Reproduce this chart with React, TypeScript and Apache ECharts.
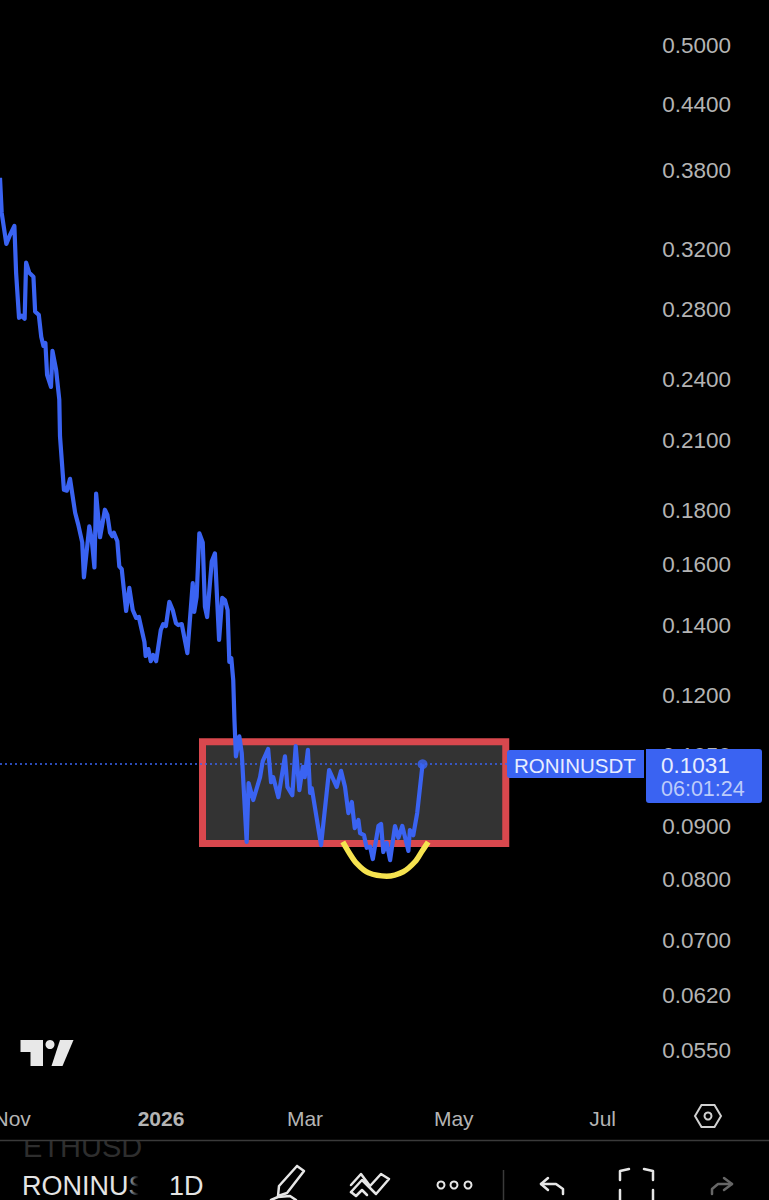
import React, { useEffect, useRef } from "react";
import * as echarts from "echarts";

// days since 1 Jan 2026
const days = [-66.0,-65.3,-63.4,-61.9,-60.1,-59.4,-58.2,-57.1,-55.9,-55.3,-54.0,-52.3,-51.6,-50.1,-49.1,-48.2,-47.4,-46.7,-45.1,-44.5,-43.0,-41.7,-41.4,-39.8,-38.6,-37.3,-35.2,-33.9,-32.3,-31.6,-29.4,-28.4,-27.3,-26.6,-25.0,-23.0,-22.0,-20.9,-20.0,-19.3,-17.9,-17.1,-16.1,-14.3,-13.0,-11.6,-10.2,-9.1,-6.8,-6.3,-5.2,-4.2,-3.2,-2.0,-0.1,0.9,2.0,3.4,4.8,6.1,7.1,8.5,10.8,13.0,13.6,14.6,15.7,17.1,18.0,18.9,20.8,22.1,23.8,25.1,26.2,27.3,28.0,28.8,29.6,30.1,30.7,32.1,33.1,35.1,35.9,37.8,40.6,41.7,43.9,45.1,46.0,48.1,50.8,51.8,53.8,55.2,56.7,58.1,58.9,60.2,61.1,61.8,65.6,68.9,72.0,73.8,75.4,76.8,78.2,79.4,80.9,81.6,83.2,84.3,85.7,86.8,89.1,90.2,91.1,92.5,93.9,95.9,97.3,98.9,101.4,102.0,103.4,105.0,107.2];
const prices = [0.3742,0.3464,0.3236,0.33,0.3366,0.3037,0.2751,0.2763,0.2745,0.3105,0.3037,0.3011,0.2788,0.2769,0.2638,0.2586,0.2603,0.2427,0.2363,0.2558,0.2453,0.2298,0.2119,0.1885,0.1881,0.1931,0.1792,0.1745,0.1679,0.1555,0.1739,0.169,0.1589,0.1869,0.1698,0.1804,0.1784,0.1715,0.1702,0.1715,0.1683,0.1593,0.1583,0.1444,0.1519,0.1447,0.1422,0.1425,0.1349,0.1308,0.1328,0.1293,0.1311,0.1293,0.1385,0.1403,0.1397,0.1473,0.1447,0.1406,0.14,0.1403,0.1316,0.1535,0.1441,0.1489,0.1713,0.1679,0.1457,0.1425,0.1611,0.1639,0.1355,0.1486,0.1479,0.1447,0.1291,0.1302,0.124,0.1136,0.1049,0.1096,0.1056,0.0869,0.0989,0.0953,0.1002,0.1038,0.1066,0.0991,0.1002,0.0959,0.1049,0.0981,0.0963,0.1073,0.0974,0.1025,0.1002,0.1064,0.0968,0.0978,0.0863,0.1018,0.0981,0.1016,0.0981,0.0926,0.0949,0.0896,0.0912,0.0886,0.0882,0.0858,0.086,0.0837,0.09,0.0904,0.085,0.0867,0.0835,0.09,0.0877,0.09,0.0852,0.0892,0.0882,0.0926,0.1031];

const priceTicks = [0.5,0.44,0.38,0.32,0.28,0.24,0.21,0.18,0.16,0.14,0.12,0.105,0.09,0.08,0.07,0.062,0.055];
const monthTicks = [-61,0,59,120,181];
const monthLabels = ["Nov","{b|2026}","Mar","May","Jul"];

const arcDays = [74.5,76.8,80.2,85.0,92.5,99.3,104.1,106.9,109.5];
const arcPrices = [0.0869,0.0851,0.0829,0.0812,0.0806,0.0814,0.0832,0.0851,0.0869];

const boxDays = [17.0,141.3];
const boxPrices = [0.1083,0.0866];

const lastPrice = 0.1031;
const symbolName = "RONINUSDT";
const countdown = "06:01:24";

const FONT = "'Liberation Sans'";
const BLUE = "#3a63f2";
const GREY = "#b4b4b4";

const line = (points: number[][], stroke = "#e6e6e6", lineWidth = 2.5) => ({
  type: "polyline", z: 110, shape: { points },
  style: { stroke, lineWidth, fill: "none", lineJoin: "round", lineCap: "round" },
});

export default function App() {
  const ref = useRef<HTMLDivElement>(null);
  useEffect(() => {
    document.body.style.margin = "0";
    document.body.style.background = "#000";
    const chart = echarts.init(ref.current!, null, { renderer: "svg" });
    chart.setOption({
      animation: false,
      backgroundColor: "#000",
      grid: { left: 0, top: 0, width: 769, height: 1100, outerBoundsMode: "none", containLabel: false },
      xAxis: {
        type: "value", min: -66, max: 249.2,
        axisLine: { show: false }, axisTick: { show: false }, splitLine: { show: false },
        axisLabel: {
          customValues: monthTicks, hideOverlap: false, color: GREY, fontFamily: FONT, fontSize: 21, margin: 8,
          formatter: (v: number) => monthLabels[monthTicks.indexOf(v)] ?? "",
          rich: { b: { fontWeight: 700, color: GREY, fontFamily: FONT, fontSize: 21 } },
        },
      },
      yAxis: {
        type: "log", position: "right", min: 0.04928, max: 0.5532,
        axisLine: { show: false }, axisTick: { show: false }, splitLine: { show: false },
        axisLabel: {
          inside: true, margin: 38, customValues: priceTicks, hideOverlap: false,
          color: GREY, fontFamily: FONT, fontSize: 22.5,
          formatter: (v: number) => v.toFixed(4),
        },
      },
      series: [
        {
          type: "line", symbol: "none", z: 5,
          data: days.map((d, i) => [d, prices[i]]),
          lineStyle: { color: BLUE, width: 4.2, join: "round" },
          markArea: {
            silent: true, z: 1,
            itemStyle: { color: "#333333", borderColor: "#d9484e", borderWidth: 7 },
            data: [[{ xAxis: boxDays[0], yAxis: boxPrices[0] }, { xAxis: boxDays[1], yAxis: boxPrices[1] }]],
          },
          markLine: {
            silent: true, symbol: "none", z: 4, label: { show: false }, precision: 6,
            lineStyle: { color: BLUE, type: [2, 3], width: 1.5 },
            data: [{ yAxis: lastPrice }],
          },
        },
        {
          type: "line", symbol: "none", smooth: 0.3, z: 6,
          data: arcDays.map((d, i) => [d, arcPrices[i]]),
          lineStyle: { color: "#f6e34f", width: 5.5 },
        },
        {
          type: "scatter", symbolSize: 10, z: 7,
          itemStyle: { color: BLUE },
          data: [[days[days.length - 1], lastPrice]],
        },
      ],
      graphic: {
        elements: [
          // last-price tags
          { type: "rect", z: 100, shape: { x: 644, y: 755, width: 125, height: 20 }, style: { fill: "#000" } },
          { type: "rect", z: 100, shape: { x: 507, y: 750, width: 137, height: 28, r: [3, 0, 0, 3] }, style: { fill: BLUE } },
          { type: "rect", z: 100, shape: { x: 646, y: 749, width: 116, height: 54, r: [0, 3, 3, 3] }, style: { fill: BLUE } },
          { type: "text", z: 101, style: { x: 514, y: 765, text: symbolName, fill: "#e8edff", font: `20.5px ${FONT}`, textVerticalAlign: "middle" } },
          { type: "text", z: 101, style: { x: 661, y: 765, text: lastPrice.toFixed(4), fill: "#e8edff", font: `22.5px ${FONT}`, textVerticalAlign: "middle" } },
          { type: "text", z: 101, style: { x: 661, y: 789, text: countdown, fill: "#bccbfa", font: `21.5px ${FONT}`, textVerticalAlign: "middle" } },
          // TradingView logo
          { type: "polygon", z: 100, shape: { points: [[20.5,1040],[43,1040],[43,1066],[30.5,1066],[30.5,1052],[20.5,1052]] }, style: { fill: "#e8e8e8" } },
          { type: "circle", z: 100, shape: { cx: 50, cy: 1044.5, r: 4.5 }, style: { fill: "#e8e8e8" } },
          { type: "polygon", z: 100, shape: { points: [[60,1040],[73.5,1040],[62.5,1066],[51.5,1066]] }, style: { fill: "#e8e8e8" } },
          // settings hexagon
          { type: "polygon", z: 100, shape: { points: [[695,1116],[701.5,1105],[714.5,1105],[721,1116],[714.5,1127],[701.5,1127]] }, style: { stroke: "#d0d0d0", lineWidth: 2, fill: "none" } },
          { type: "circle", z: 100, shape: { cx: 708, cy: 1116, r: 3.5 }, style: { stroke: "#d0d0d0", lineWidth: 2, fill: "none" } },
          // toolbar
          { type: "line", z: 100, shape: { x1: 0, y1: 1140.5, x2: 769, y2: 1140.5 }, style: { stroke: "#3a3a3a", lineWidth: 1.5 } },
          { type: "text", z: 99, style: { x: 23, y: 1161, text: "ETHUSD", fill: "#2e2e2e", font: `29px ${FONT}`, textVerticalAlign: "bottom" }, silent: true },
          { type: "rect", z: 99.5, shape: { x: 0, y: 1129, width: 160, height: 11 }, style: { fill: "#000" } },
          { type: "text", z: 100, style: { x: 22, y: 1186, text: "RONINUS", fill: "#e4e4e4", font: `27px ${FONT}`, textVerticalAlign: "middle" } },
          {
            type: "rect", z: 101, shape: { x: 126, y: 1165, width: 36, height: 35 },
            style: { fill: new echarts.graphic.LinearGradient(0, 0, 1, 0, [{ offset: 0, color: "rgba(0,0,0,0)" }, { offset: 0.35, color: "#000" }, { offset: 1, color: "#000" }]) },
          },
          { type: "text", z: 102, style: { x: 169, y: 1186, text: "1D", fill: "#e4e4e4", font: `27px ${FONT}`, textVerticalAlign: "middle" } },
          // pencil
          line([[297,1166],[304,1171],[287,1193],[278,1196],[279,1186],[297,1166]]),
          line([[271,1200],[278,1197],[290,1196],[296,1200]]),
          // trend tool
          line([[351,1192],[362,1180],[376,1194],[389,1179],[381,1174],[370,1186],[361,1174],[351,1185]]),
          line([[351,1192],[356,1196],[362,1190],[367,1195]]),
          // dots
          { type: "circle", z: 100, shape: { cx: 441, cy: 1185, r: 3.5 }, style: { stroke: "#e6e6e6", lineWidth: 2, fill: "none" } },
          { type: "circle", z: 100, shape: { cx: 454, cy: 1185, r: 3.5 }, style: { stroke: "#e6e6e6", lineWidth: 2, fill: "none" } },
          { type: "circle", z: 100, shape: { cx: 468, cy: 1185, r: 3.5 }, style: { stroke: "#e6e6e6", lineWidth: 2, fill: "none" } },
          { type: "line", z: 100, shape: { x1: 503.5, y1: 1170, x2: 503.5, y2: 1200 }, style: { stroke: "#3a3a3a", lineWidth: 1.5 } },
          // undo
          line([[548,1178],[541,1184],[548,1190]]),
          line([[541,1184],[556,1184],[563,1189],[563,1194]]),
          // fullscreen corners
          line([[620,1180],[620,1171],[629,1169]]),
          line([[644,1169],[653,1171],[653,1180]]),
          line([[620,1190],[620,1200]]),
          line([[653,1190],[653,1200]]),
          // redo
          line([[724,1178],[732,1184],[724,1190]], "#666"),
          line([[732,1184],[718,1184],[712,1189],[712,1194]], "#666"),
        ],
      },
    });
    return () => chart.dispose();
  }, []);
  return <div ref={ref} style={{ width: 769, height: 1200 }} />;
}
